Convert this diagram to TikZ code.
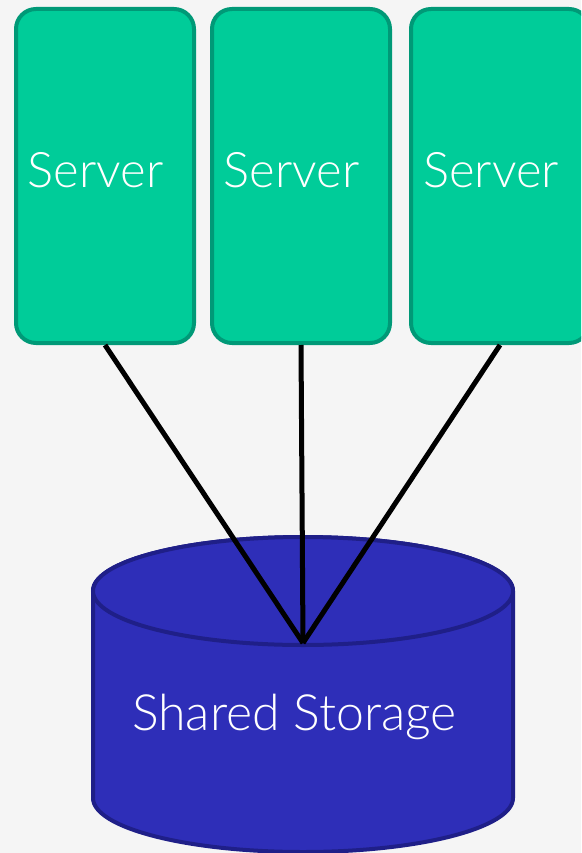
\documentclass[tikz,border=0pt]{standalone}
\usepackage{fontspec}
\setmainfont{Lato}[UprightFont={* Light}]
\usepackage{xcolor}
\usepackage{tikz}
\usetikzlibrary{positioning,arrows.meta}

\definecolor{srvfill}{HTML}{00CC99}
\definecolor{srvline}{HTML}{009977}
\definecolor{stofill}{HTML}{2E2EB8}
\definecolor{stoline}{HTML}{1F1F88}
\definecolor{bgcol}{HTML}{F5F5F5}

\begin{document}
\begin{tikzpicture}[x=1pt, y=-1pt,
  server/.style={draw=srvline, fill=srvfill, line width=4pt, rounded corners=20pt,
    minimum width=178pt, minimum height=334pt},
  label text/.style={text=white, font=\fontsize{49}{52}\selectfont},
  storage/.style={draw=stoline, fill=stofill, line width=4pt},
  link/.style={line width=5pt, black}]

\useasboundingbox (0,0) rectangle (581,853);
\clip (0,0) rectangle (581,853);
\fill[bgcol] (0,0) rectangle (581,853);

\node[server] (S1) at (105,176) {};
\node[server] (S2) at (301,176) {};
\node[server] (S3) at (500,176) {};

\node[label text] (T1) at (95.5,170) {Server};
\node[label text] (T2) at (291.5,170) {Server};
\node[label text] (T3) at (491,170) {Server};

% cylinder
\draw[storage] (93,591) -- (93,798) arc[start angle=180, end angle=0, x radius=210, y radius=54]
  -- (513,591) arc[start angle=0, end angle=-180, x radius=210, y radius=54] -- cycle;
\draw[storage] (303,591) ellipse[x radius=210, y radius=54];

\node[label text, font=\fontsize{50}{54}\selectfont] (ST) at (294.5,717) {Shared Storage};
\coordinate (hub) at (303,643);

\draw[link] (S1.south) -- (hub);
\draw[link] (S2.south) -- (hub);
\draw[link] (S3.south) -- (hub);
\end{tikzpicture}
\end{document}
